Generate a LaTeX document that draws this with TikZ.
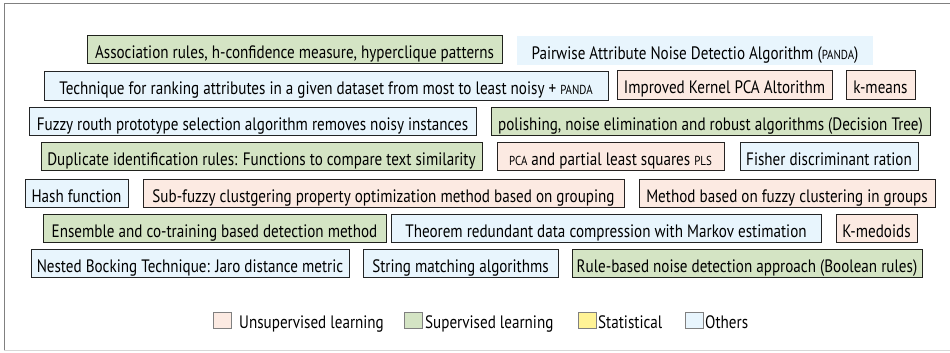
\documentclass[tikz,border=0pt]{standalone}
\usepackage{fontspec}
\usepackage{xcolor}
\setmainfont{PT Sans}[FakeStretch=0.84]
\definecolor{unsupColor}{RGB}{252, 234, 226}
\definecolor{supColor}{RGB}{212, 228, 196}
\definecolor{statColor}{RGB}{255, 243, 150}
\definecolor{otherColor}{RGB}{232, 245, 253}
\definecolor{frameColor}{RGB}{128, 128, 128}
\definecolor{rimColor}{RGB}{215, 215, 215}
\newcommand{\boxfont}{\fontsize{18pt}{21pt}\selectfont}
\newcommand{\smcaps}[1]{{\fontsize{13pt}{15pt}\selectfont #1}}

\begin{document}
\begin{tikzpicture}[x=1pt, y=-1pt,
    method/.style={font=\boxfont, inner sep=1pt, minimum height=28.5pt, text height=17.5pt, text depth=0pt, line width=1pt},
    unsupBox/.style={method, draw=unsupColor!15!black, fill=unsupColor},
    supBox/.style={method, draw=supColor!15!black, fill=supColor},
    otherBox/.style={method, draw=otherColor!15!black, fill=otherColor},
    keyBox/.style={minimum width=18pt, minimum height=16pt, inner sep=0pt, line width=1pt, draw=frameColor},
    keyText/.style={font=\boxfont, anchor=base west, inner sep=0pt}]
    \useasboundingbox (0,0) rectangle (950,353);
    \draw[frameColor, line width=1pt] (4,350) -- (4,4) -- (950,4);
    \draw[rimColor, line width=1pt] (4,350) -- (950,350);
    % row 1
    \node[supBox, minimum width=415pt] (assoc) at (294.5,49.5) {Association rules, h-confidence measure, hyperclique patterns};
    \node[method, fill=otherColor, minimum width=356pt] (panda) at (695,50.5) {Pairwise Attribute Noise Detectio Algorithm (\smcaps{PANDA})};
    % row 2
    \node[otherBox, minimum width=564pt] (rank) at (326,86) {Technique for ranking attributes in a given dataset from most to least noisy + \smcaps{PANDA}};
    \node[unsupBox, minimum width=215pt] (kpca) at (724.5,85) {Improved Kernel PCA Altorithm};
    \node[unsupBox, minimum width=69pt] (kmeans) at (880.5,85) {k-means};
    % row 3
    \node[otherBox, minimum width=447pt] (fuzzy) at (252.5,121.5) {Fuzzy routh prototype selection algorithm removes noisy instances};
    \node[supBox, minimum width=439pt] (polish) at (710.5,121.5) {polishing, noise elimination and robust algorithms (Decision Tree)};
    % row 4
    \node[supBox, minimum width=441pt] (dup) at (261.5,156.5) {Duplicate identification rules: Functions to compare text similarity};
    \node[unsupBox, minimum width=227pt] (pls) at (610.5,156.5) {\smcaps{PCA} and partial least squares \smcaps{PLS}};
    \node[otherBox, minimum width=178pt] (fisher) at (829,156.5) {Fisher discriminant ration};
    % row 5
    \node[otherBox, minimum width=103pt] (hash) at (76.5,193.5) {Hash function};
    \node[unsupBox, minimum width=481pt] (subfuzzy) at (383.5,193.5) {Sub-fuzzy clustgering property optimization method based on grouping};
    \node[unsupBox, minimum width=296pt] (groups) at (787,193.5) {Method based on fuzzy clustering in groups};
    % row 6
    \node[supBox, minimum width=343pt] (ensemble) at (214.5,228.5) {Ensemble and co-training based detection method};
    \node[otherBox, minimum width=430pt] (markov) at (606,228.5) {Theorem redundant data compression with Markov estimation};
    \node[unsupBox, minimum width=81pt] (kmedoids) at (876.5,228.5) {K-medoids};
    % row 7
    \node[otherBox, minimum width=318pt] (jaro) at (190,263.5) {Nested Bocking Technique: Jaro distance metric};
    \node[otherBox, minimum width=195pt] (string) at (460.5,263.5) {String matching algorithms};
    \node[supBox, minimum width=350pt] (boolean) at (747,263.5) {Rule-based noise detection approach (Boolean rules)};
    % legend
    \node[keyBox, fill=unsupColor] (keyUnsup) at (222.5,320) {};
    \node[keyText] (txtUnsup) at (239,328) {Unsupervised learning};
    \node[keyBox, fill=supColor] (keySup) at (413,320) {};
    \node[keyText] (txtSup) at (425,328) {Supervised learning};
    \node[keyBox, fill=statColor] (keyStat) at (587,320) {};
    \node[keyText] (txtStat) at (598,328) {Statistical};
    \node[keyBox, fill=otherColor] (keyOther) at (694,320) {};
    \node[keyText] (txtOther) at (705,328) {Others};
\end{tikzpicture}
\end{document}
